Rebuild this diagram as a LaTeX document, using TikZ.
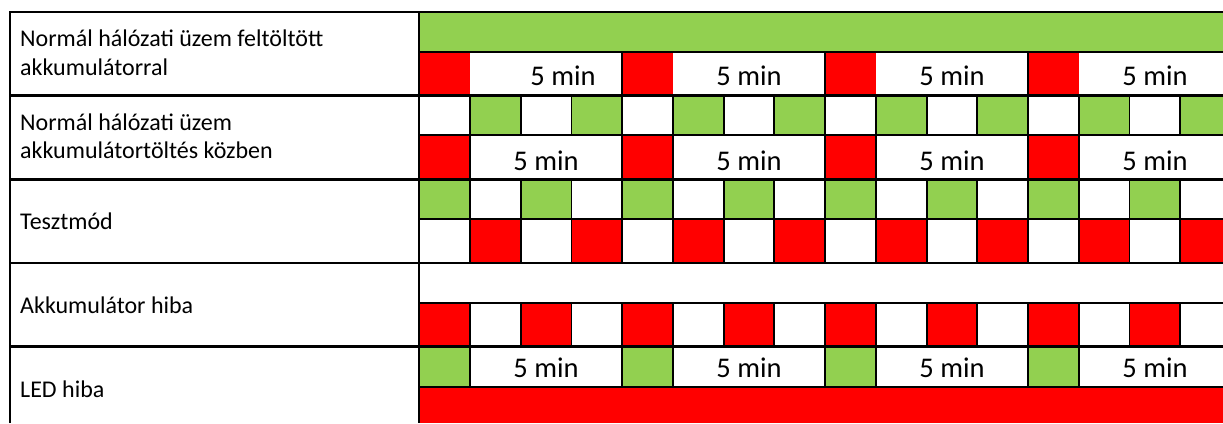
\documentclass[tikz,border=0pt]{standalone}
\usepackage{fontspec}
\setmainfont{Carlito}
\usepackage{tikz}
\usetikzlibrary{positioning}
\definecolor{ledgreen}{HTML}{92D050}
\definecolor{ledred}{HTML}{FF0000}
\tikzset{
  rowRule/.style={draw=black, line width=2.7pt},
  cellRule/.style={draw=black, line width=1.9pt},
  frameRule/.style={draw=black, line width=2pt},
  greenCell/.style={fill=ledgreen},
  redCell/.style={fill=ledred},
  modeLabel/.style={anchor=base west, inner sep=0pt, align=left, font=\fontsize{24}{28.3}\selectfont},
  periodLabel/.style={anchor=base, inner sep=0pt, font=\fontsize{28.5}{30}\selectfont}
}
\begin{document}
\begin{tikzpicture}[x=1pt,y=-1pt]
  \useasboundingbox (0,0) rectangle (1223,423);
  \clip (0,0) rectangle (1223,423);
  \def\colW{50.73}
  \def\colX{419.3}
  \fill[greenCell] (\colX,11.5) rectangle (1223,51.7);
  \fill[redCell] (\colX,386.7) rectangle (1223,423);
  \foreach \k in {0,4,8,12} {
    \fill[redCell] (\colX+\k*\colW,51.7) rectangle (\colX+\k*\colW+\colW,95.3);
    \fill[redCell] (\colX+\k*\colW,135) rectangle (\colX+\k*\colW+\colW,179.5);
    \fill[greenCell] (\colX+\k*\colW,346.5) rectangle (\colX+\k*\colW+\colW,386.7);
  }
  \foreach \k in {1,3,...,15} {
    \fill[greenCell] (\colX+\k*\colW,95.3) rectangle (\colX+\k*\colW+\colW,135);
    \fill[redCell] (\colX+\k*\colW,219.3) rectangle (\colX+\k*\colW+\colW,263);
  }
  \foreach \k in {0,2,...,14} {
    \fill[greenCell] (\colX+\k*\colW,179.5) rectangle (\colX+\k*\colW+\colW,219.3);
    \fill[redCell] (\colX+\k*\colW,303) rectangle (\colX+\k*\colW+\colW,346.5);
  }
  \foreach \y in {51.7,135,219.3,303,386.7}
    \draw[cellRule] (\colX,\y) -- (1223,\y);
  \foreach \k in {4,8,12}
    \draw[cellRule] (\colX+\k*\colW,51.7) -- (\colX+\k*\colW,95.3);
  \foreach \k in {1,4,5,8,9,12,13} {
    \draw[cellRule] (\colX+\k*\colW,135) -- (\colX+\k*\colW,179.5);
    \draw[cellRule] (\colX+\k*\colW,346.5) -- (\colX+\k*\colW,386.7);
  }
  \foreach \k in {1,...,15} {
    \draw[cellRule] (\colX+\k*\colW,95.3) -- (\colX+\k*\colW,135);
    \draw[cellRule] (\colX+\k*\colW,179.5) -- (\colX+\k*\colW,263);
    \draw[cellRule] (\colX+\k*\colW,303) -- (\colX+\k*\colW,346.5);
  }
  \foreach \y in {95.3,179.5,263,346.5}
    \draw[rowRule] (10,\y) -- (1223,\y);
  \draw[frameRule] (10,423) -- (10,11.5) -- (1223,11.5);
  \draw[frameRule] (\colX,11.5) -- (\colX,423);

  \node[modeLabel] (chargedMode) at (20,75) {Normál hálózati üzem feltöltött\\akkumulátorral};
  \node[modeLabel] (chargingMode) at (20,158.3) {Normál hálózati üzem\\akkumulátortöltés közben};
  \node[modeLabel] (testMode) at (20,229) {Tesztmód};
  \node[modeLabel] (batteryFault) at (20,313) {Akkumulátor hiba};
  \node[modeLabel] (ledFault) at (20,397) {LED hiba};

  \foreach \x [count=\j] in {563,749,952,1155}
    \node[periodLabel] (chargedPeriod\j) at (\x,85) {5 min};
  \foreach \x [count=\j] in {546,749,952,1155} {
    \node[periodLabel] (chargingPeriod\j) at (\x,170) {5 min};
    \node[periodLabel] (ledPeriod\j) at (\x,377) {5 min};
  }
\end{tikzpicture}
\end{document}
